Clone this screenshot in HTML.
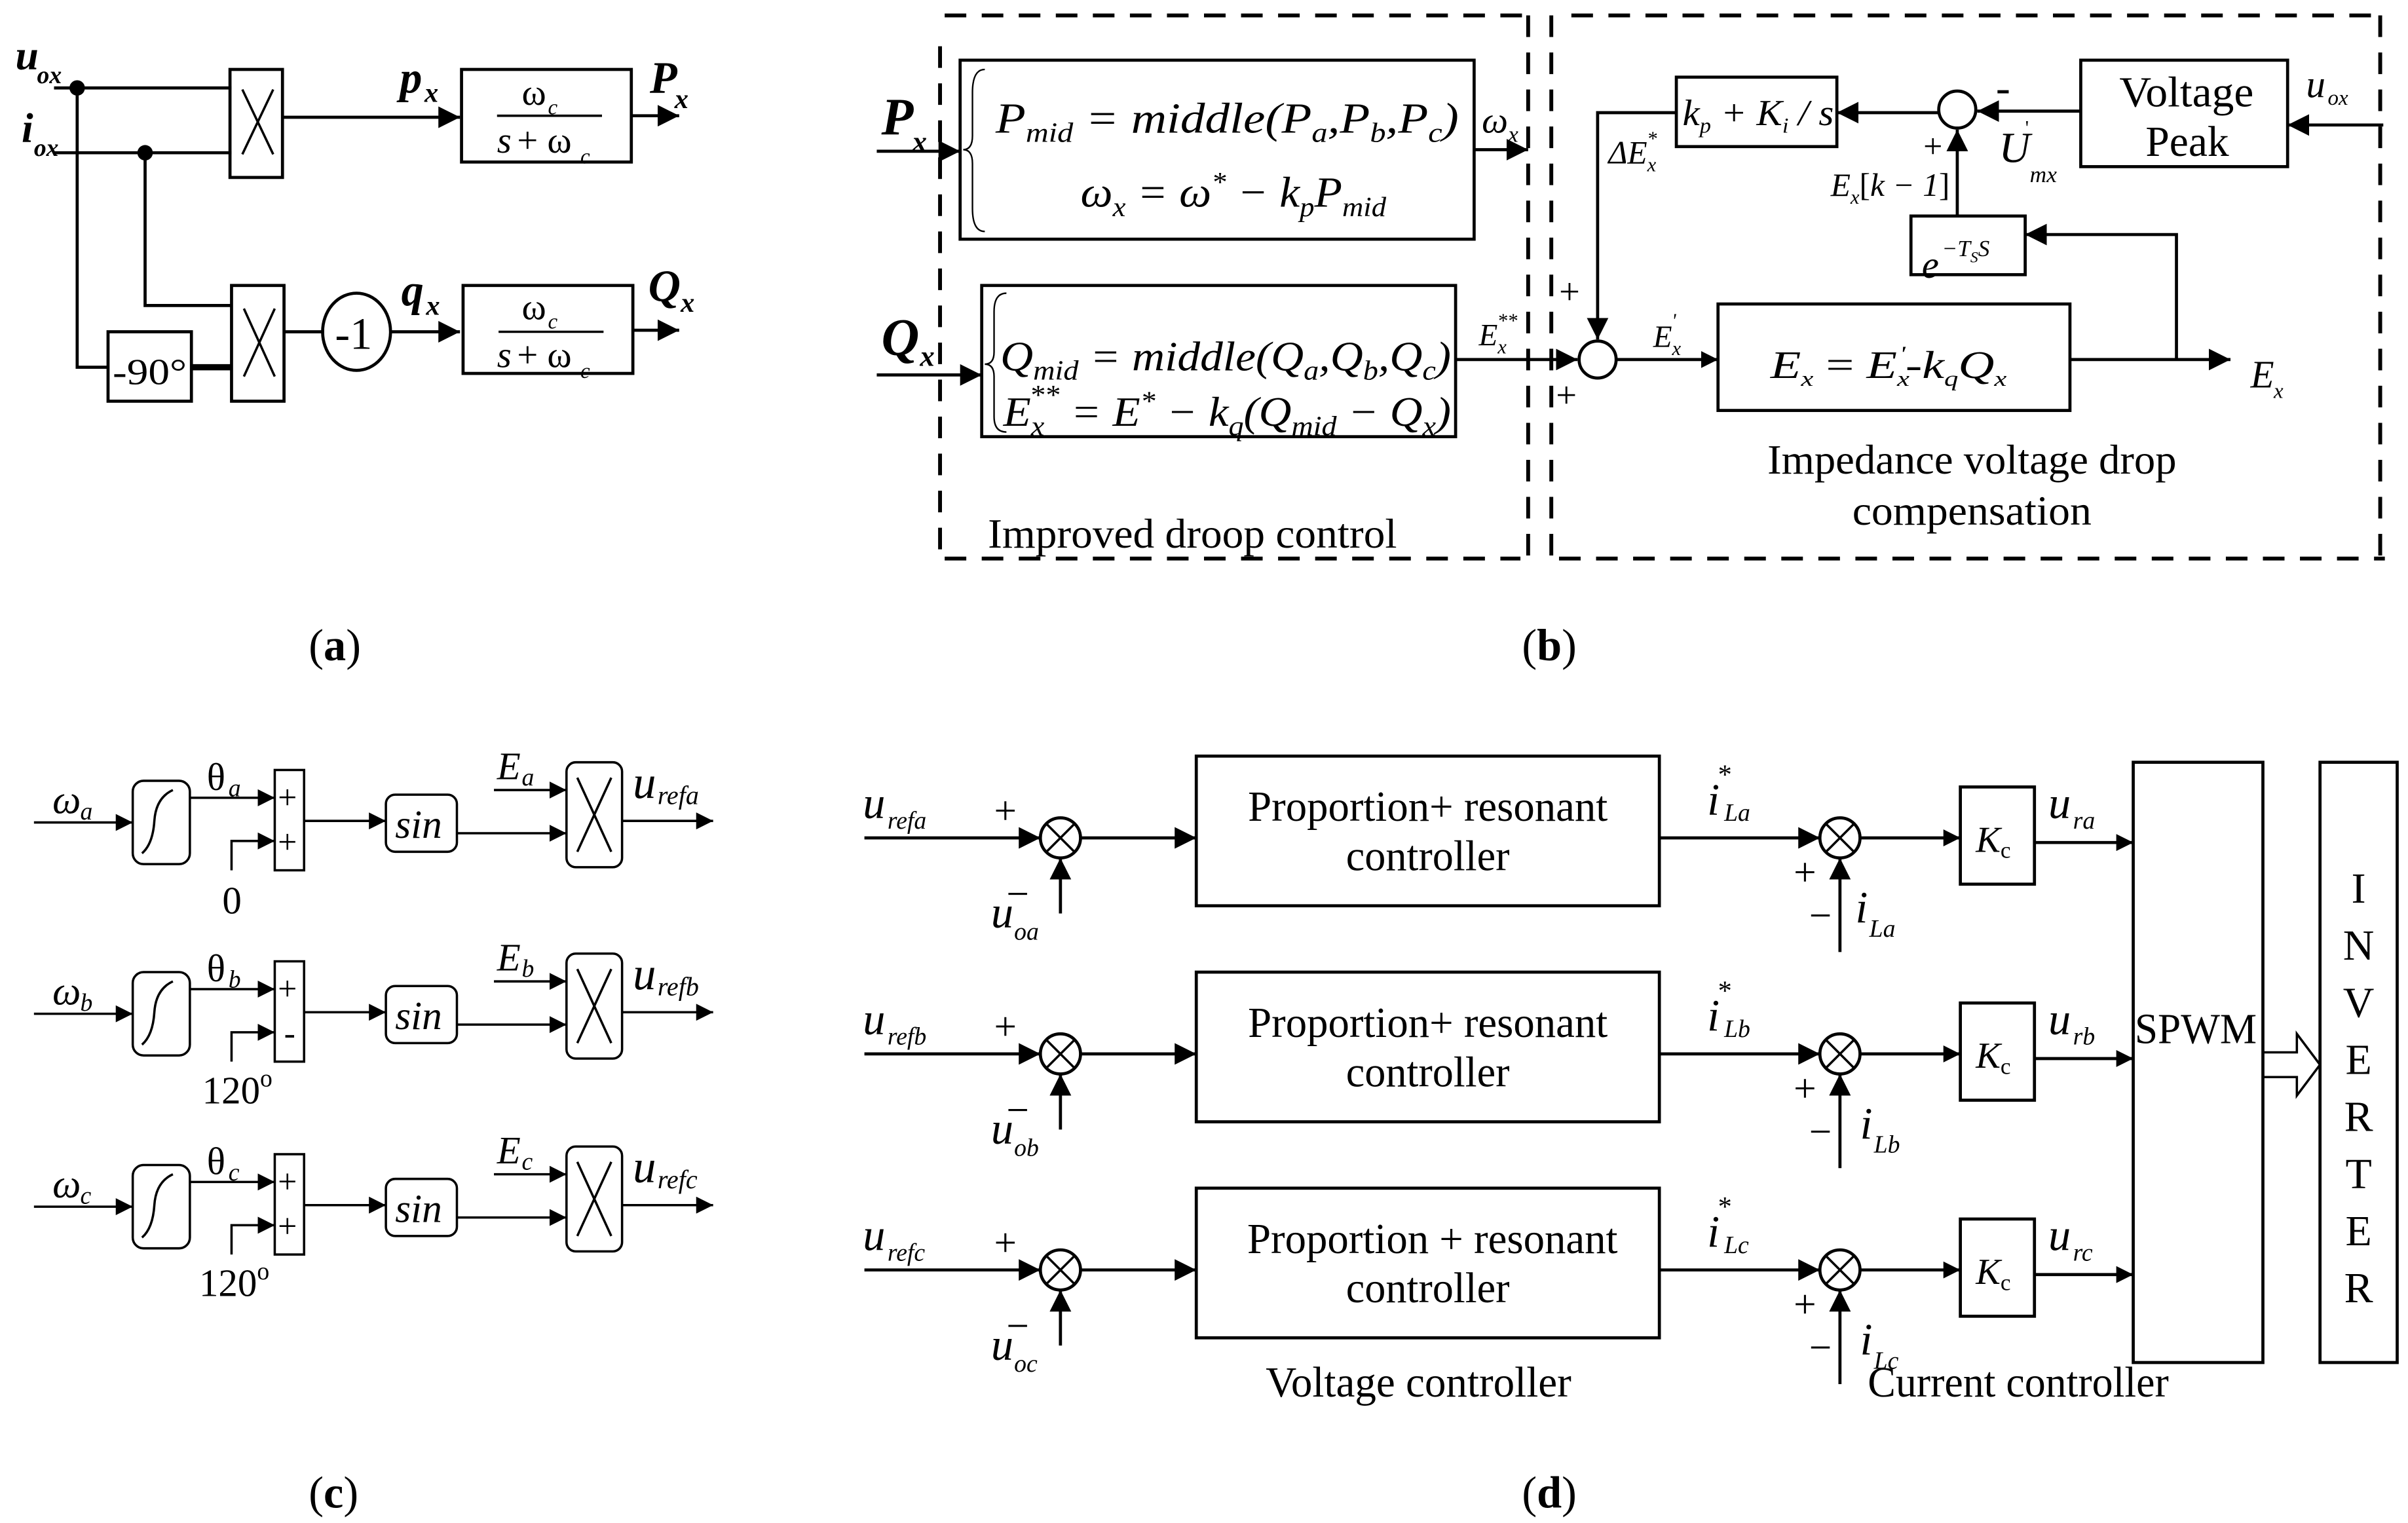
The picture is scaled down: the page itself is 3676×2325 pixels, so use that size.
<!DOCTYPE html>
<html><head><meta charset="utf-8"><style>
html,body{margin:0;padding:0;background:#fff;}
svg{display:block;}
text{font-family:"Liberation Serif",serif;fill:#000;}
.i{font-style:italic;}
.b{font-weight:bold;}
</style></head><body>
<svg width="3676" height="2325" viewBox="0 0 1560 987" preserveAspectRatio="none" xmlns="http://www.w3.org/2000/svg">
<defs>
<marker id="A" viewBox="0 0 10 10" refX="10" refY="5" markerWidth="14" markerHeight="14" orient="auto" markerUnits="userSpaceOnUse"><path d="M0,0L10,5L0,10z"/></marker>
<marker id="m" viewBox="0 0 10 10" refX="10" refY="5" markerWidth="11" markerHeight="11" orient="auto" markerUnits="userSpaceOnUse"><path d="M0,0L10,5L0,10z"/></marker>
</defs>
<g fill="none" stroke="#000" stroke-width="2">
<!-- (a) -->
<line x1="35" y1="57" x2="150" y2="57"/>
<line x1="35" y1="99" x2="150" y2="99"/>
<path d="M50,57V238H70"/>
<path d="M94,99V198H150"/>
<rect x="149" y="45" width="34" height="70"/>
<rect x="150" y="185" width="34" height="75"/>
<rect x="70" y="215" width="54" height="45"/>
<line x1="124" y1="238" x2="150" y2="238" stroke-width="4"/>
<path d="M157,58L177,100M177,58L157,100M158,200L178,244M178,200L158,244" stroke-width="1.5"/>
<line x1="183" y1="76" x2="298" y2="76" marker-end="url(#A)"/>
<rect x="299" y="45" width="110" height="60"/>
<line x1="322" y1="75" x2="390" y2="75" stroke-width="1.5"/>
<line x1="409" y1="75" x2="440" y2="75" marker-end="url(#A)"/>
<line x1="184" y1="215" x2="210" y2="215"/>
<ellipse cx="231" cy="215" rx="22" ry="25"/>
<line x1="253" y1="215" x2="298" y2="215" marker-end="url(#A)"/>
<rect x="300" y="185" width="110" height="57"/>
<line x1="323" y1="215" x2="391" y2="215" stroke-width="1.5"/>
<line x1="410" y1="214" x2="440" y2="214" marker-end="url(#A)"/>
</g>
<circle cx="50" cy="57" r="5"/><circle cx="94" cy="99" r="5"/>
<text x="10" y="45" font-size="27" class="i b">u</text><text x="24" y="54" font-size="16" class="i b">ox</text>
<text x="14" y="92" font-size="27" class="i b">i</text><text x="22" y="101" font-size="16" class="i b">ox</text>
<text x="259" y="60" font-size="29" class="i b">p</text><text x="275" y="66" font-size="18" class="i b">x</text>
<text x="421" y="60" font-size="29" class="i b">P</text><text x="437" y="70" font-size="18" class="i b">x</text>
<text x="260" y="198" font-size="29" class="i b">q</text><text x="276" y="204" font-size="18" class="i b">x</text>
<text x="420" y="195" font-size="29" class="i b">Q</text><text x="441" y="202" font-size="18" class="i b">x</text>
<text x="338" y="68" font-size="24">ω</text><text x="355" y="74" font-size="14" class="i">c</text>
<text x="322" y="99" font-size="24" class="i">s</text><text x="335" y="99" font-size="24">+ ω</text><text x="376" y="106" font-size="14" class="i">c</text>
<text x="338" y="207" font-size="24">ω</text><text x="355" y="213" font-size="14" class="i">c</text>
<text x="322" y="238" font-size="24" class="i">s</text><text x="335" y="238" font-size="24">+ ω</text><text x="376" y="245" font-size="14" class="i">c</text>
<text x="217" y="226" font-size="29">-1</text>
<text x="73" y="249" font-size="24" textLength="48" lengthAdjust="spacingAndGlyphs">-90°</text>
<text x="200" y="428" font-size="29">(<tspan class="b">a</tspan>)</text>

<!-- (b) -->
<g fill="none" stroke="#000" stroke-width="2.5" stroke-dasharray="14,10">
<line x1="612" y1="10" x2="990" y2="10"/>
<line x1="609" y1="30" x2="609" y2="362"/>
<line x1="612" y1="362" x2="985" y2="362"/>
<line x1="990" y1="10" x2="990" y2="362"/>
<line x1="1005" y1="10" x2="1005" y2="362"/>
<line x1="1018" y1="10" x2="1545" y2="10"/>
<line x1="1010" y1="362" x2="1545" y2="362"/>
<line x1="1542" y1="10" x2="1542" y2="362"/>
</g>
<g fill="none" stroke="#000" stroke-width="2">
<line x1="568" y1="98" x2="622" y2="98" marker-end="url(#A)"/>
<rect x="622" y="39" width="333" height="116"/>
<line x1="955" y1="97" x2="990" y2="97" marker-end="url(#A)"/>
<line x1="568" y1="243" x2="636" y2="243" marker-end="url(#A)"/>
<rect x="636" y="185" width="307" height="98"/>
<line x1="943" y1="233" x2="1022" y2="233" marker-end="url(#A)"/>
<circle cx="1035" cy="233" r="12"/>
<path d="M1086,73H1035V220" marker-end="url(#A)"/>
<rect x="1086" y="50" width="104" height="45"/>
<line x1="1256" y1="73" x2="1190" y2="73" marker-end="url(#A)"/>
<circle cx="1268" cy="71" r="12"/>
<line x1="1348" y1="72" x2="1281" y2="72" marker-end="url(#A)"/>
<rect x="1348" y="39" width="134" height="69"/>
<line x1="1544" y1="81" x2="1482" y2="81" marker-end="url(#A)"/>
<line x1="1268" y1="140" x2="1268" y2="84" marker-end="url(#A)"/>
<rect x="1238" y="140" width="74" height="38"/>
<path d="M1410,233V152H1312" marker-end="url(#A)"/>
<line x1="1047" y1="233" x2="1113" y2="233" marker-end="url(#m)"/>
<rect x="1113" y="197" width="228" height="69"/>
<line x1="1341" y1="233" x2="1445" y2="233" marker-end="url(#A)"/>
</g>
<text x="571" y="87" font-size="34" class="i b">P</text><text x="591" y="98" font-size="19" class="i b">x</text>
<text x="571" y="230" font-size="34" class="i b">Q</text><text x="596" y="237" font-size="19" class="i b">x</text>
<path d="M638,45Q630,45 630,60V88Q630,97 624,97Q630,97 630,106V135Q630,150 638,150" fill="none" stroke="#000" stroke-width="1"/>
<path d="M652,190Q644,190 644,202V228Q644,236 638,236Q644,236 644,244V270Q644,280 652,280" fill="none" stroke="#000" stroke-width="1"/>
<text x="645" y="86" font-size="28" class="i" textLength="300" lengthAdjust="spacingAndGlyphs">P<tspan font-size="18" dy="6">mid</tspan><tspan dy="-6"> = middle(P</tspan><tspan font-size="18" dy="6">a</tspan><tspan dy="-6">,P</tspan><tspan font-size="18" dy="6">b</tspan><tspan dy="-6">,P</tspan><tspan font-size="18" dy="6">c</tspan><tspan dy="-6">)</tspan></text>
<text x="700" y="134" font-size="28" class="i" textLength="198" lengthAdjust="spacingAndGlyphs">ω<tspan font-size="18" dy="6">x</tspan><tspan dy="-6"> = ω</tspan><tspan font-size="18" dy="-10">*</tspan><tspan dy="10"> − k</tspan><tspan font-size="18" dy="6">p</tspan><tspan dy="-6">P</tspan><tspan font-size="18" dy="6">mid</tspan></text>
<text x="960" y="86" font-size="24" class="i">ω<tspan font-size="15" dy="6">x</tspan></text>
<text x="648" y="240" font-size="27" class="i" textLength="292" lengthAdjust="spacingAndGlyphs">Q<tspan font-size="18" dy="6">mid</tspan><tspan dy="-6"> = middle(Q</tspan><tspan font-size="18" dy="6">a</tspan><tspan dy="-6">,Q</tspan><tspan font-size="18" dy="6">b</tspan><tspan dy="-6">,Q</tspan><tspan font-size="18" dy="6">c</tspan><tspan dy="-6">)</tspan></text>
<text x="650" y="276" font-size="27" class="i" textLength="290" lengthAdjust="spacingAndGlyphs">E<tspan font-size="18" dy="6">x</tspan><tspan font-size="18" dx="-9" dy="-20">**</tspan><tspan dy="14"> = E</tspan><tspan font-size="18" dy="-10">*</tspan><tspan dy="10"> − k</tspan><tspan font-size="18" dy="6">q</tspan><tspan dy="-6">(Q</tspan><tspan font-size="18" dy="6">mid</tspan><tspan dy="-6"> − Q</tspan><tspan font-size="18" dy="6">x</tspan><tspan dy="-6">)</tspan></text>
<text x="958" y="224" font-size="20" class="i">E<tspan font-size="13" dy="5">x</tspan><tspan font-size="13" dx="-6" dy="-17">**</tspan></text>
<text x="1010" y="197" font-size="24">+</text><text x="1008" y="264" font-size="24">+</text>
<text x="1042" y="106" font-size="21" class="i">ΔE<tspan font-size="13" dy="5">x</tspan><tspan font-size="13" dx="-6" dy="-17">*</tspan></text>
<text x="1090" y="81" font-size="24" class="i" textLength="98" lengthAdjust="spacingAndGlyphs">k<tspan font-size="14" dy="5">p</tspan><tspan dy="-5"> + K</tspan><tspan font-size="14" dy="5">i</tspan><tspan dy="-5"> / s</tspan></text>
<text x="1293" y="66" font-size="28">-</text>
<text x="1246" y="102" font-size="22">+</text>
<text x="1295" y="105" font-size="28" class="i">U</text><text x="1312" y="87" font-size="13">'</text><text x="1315" y="118" font-size="15" class="i">mx</text>
<text x="1373" y="69" font-size="28" textLength="87" lengthAdjust="spacingAndGlyphs">Voltage</text><text x="1390" y="101" font-size="28" textLength="54" lengthAdjust="spacingAndGlyphs">Peak</text>
<text x="1494" y="63" font-size="25" class="i">u</text><text x="1508" y="68" font-size="14" class="i">ox</text>
<text x="1186" y="127" font-size="21" class="i">E<tspan font-size="13" dy="5">x</tspan><tspan dy="-5" font-style="normal">[</tspan>k − 1<tspan font-style="normal">]</tspan></text>
<text x="1245" y="180" font-size="25" class="i">e</text><text x="1258" y="166" font-size="15" class="i">−T<tspan font-size="10" dy="4">S</tspan><tspan dy="-4">S</tspan></text>
<text x="1071" y="225" font-size="20" class="i">E<tspan font-size="13" dy="5">x</tspan><tspan font-size="13" dx="-6" dy="-18">'</tspan></text>
<text x="1147" y="245" font-size="25" class="i" textLength="153" lengthAdjust="spacingAndGlyphs">E<tspan font-size="14" dy="5">x</tspan><tspan dy="-5" font-style="normal"> = </tspan>E<tspan font-size="14" dy="5">x</tspan><tspan font-size="14" dx="-5" dy="-16">'</tspan><tspan dy="11">-k</tspan><tspan font-size="14" dy="5">q</tspan><tspan dy="-5">Q</tspan><tspan font-size="14" dy="5">x</tspan></text>
<text x="1458" y="251" font-size="25" class="i">E</text><text x="1473" y="258" font-size="14" class="i">x</text>
<text x="640" y="355" font-size="27" textLength="265" lengthAdjust="spacingAndGlyphs">Improved droop control</text>
<text x="1145" y="307" font-size="27" textLength="265" lengthAdjust="spacingAndGlyphs">Impedance voltage drop</text>
<text x="1200" y="340" font-size="27" textLength="155" lengthAdjust="spacingAndGlyphs">compensation</text>
<text x="986" y="428" font-size="29">(<tspan class="b">b</tspan>)</text>

<!-- (c) -->
<g id="rowc">
<g fill="none" stroke="#000" stroke-width="1.5">
<line x1="22" y1="533" x2="86" y2="533" marker-end="url(#m)"/>
<rect x="86" y="506" width="37" height="54" rx="7"/>
<path d="M92,553Q99,547 100,532T112,512" />
<line x1="123" y1="517" x2="178" y2="517" marker-end="url(#m)"/>
<rect x="178" y="499" width="19" height="65"/>
<path d="M150,564V545H178" marker-end="url(#m)"/>
<line x1="197" y1="532" x2="250" y2="532" marker-end="url(#m)"/>
<rect x="250" y="515" width="46" height="37" rx="6"/>
<line x1="296" y1="540" x2="367" y2="540" marker-end="url(#m)"/>
<line x1="320" y1="512" x2="367" y2="512" marker-end="url(#m)"/>
<rect x="367" y="494" width="36" height="68" rx="6"/>
<path d="M374,504L396,552M396,504L374,552"/>
<line x1="403" y1="532" x2="462" y2="532" marker-end="url(#m)"/>
</g>
</g>
<text x="34" y="527" font-size="26" class="i">ω</text><text x="52" y="531" font-size="16" class="i">a</text>
<text x="134" y="512" font-size="25">θ</text><text x="148" y="516" font-size="16" class="i">a</text>
<text x="180" y="524" font-size="22">+</text><text x="180" y="553" font-size="22">+</text>
<text x="144" y="592" font-size="25">0</text>
<text x="256" y="543" font-size="26" class="i">sin</text>
<text x="322" y="505" font-size="25" class="i">E</text><text x="338" y="509" font-size="16" class="i">a</text>
<text x="410" y="517" font-size="30" class="i">u</text><text x="426" y="521" font-size="17" class="i">refa</text>

<use href="#rowc" transform="translate(0,124)"/>
<rect x="180" y="663" width="15" height="20" fill="#fff"/>
<text x="34" y="651" font-size="26" class="i">ω</text><text x="52" y="655" font-size="16" class="i">b</text>
<text x="134" y="636" font-size="25">θ</text><text x="148" y="640" font-size="16" class="i">b</text>
<text x="180" y="648" font-size="22">+</text><text x="184" y="677" font-size="22">-</text>
<text x="131" y="715" font-size="25">120<tspan font-size="16" dy="-11">o</tspan></text>
<text x="256" y="667" font-size="26" class="i">sin</text>
<text x="322" y="629" font-size="25" class="i">E</text><text x="338" y="633" font-size="16" class="i">b</text>
<text x="410" y="641" font-size="30" class="i">u</text><text x="426" y="645" font-size="17" class="i">refb</text>

<use href="#rowc" transform="translate(0,249)"/>
<text x="34" y="776" font-size="26" class="i">ω</text><text x="52" y="780" font-size="16" class="i">c</text>
<text x="134" y="761" font-size="25">θ</text><text x="148" y="765" font-size="16" class="i">c</text>
<text x="180" y="773" font-size="22">+</text><text x="180" y="802" font-size="22">+</text>
<text x="129" y="840" font-size="25">120<tspan font-size="16" dy="-11">o</tspan></text>
<text x="256" y="792" font-size="26" class="i">sin</text>
<text x="322" y="754" font-size="25" class="i">E</text><text x="338" y="758" font-size="16" class="i">c</text>
<text x="410" y="766" font-size="30" class="i">u</text><text x="426" y="770" font-size="17" class="i">refc</text>
<text x="200" y="977" font-size="29">(<tspan class="b">c</tspan>)</text>

<!-- (d) -->
<g id="rowd">
<g fill="none" stroke="#000" stroke-width="2">
<line x1="560" y1="543" x2="674" y2="543" marker-end="url(#A)"/>
<circle cx="687" cy="543" r="13"/>
<path d="M678,534L696,552M696,534L678,552" stroke-width="1.5"/>
<line x1="687" y1="592" x2="687" y2="556" marker-end="url(#A)"/>
<line x1="700" y1="543" x2="775" y2="543" marker-end="url(#A)"/>
<rect x="775" y="490" width="300" height="97"/>
<line x1="1075" y1="543" x2="1179" y2="543" marker-end="url(#A)"/>
<circle cx="1192" cy="543" r="13"/>
<path d="M1183,534L1201,552M1201,534L1183,552" stroke-width="1.5"/>
<line x1="1192" y1="617" x2="1192" y2="556" marker-end="url(#A)"/>
<line x1="1205" y1="543" x2="1270" y2="543" marker-end="url(#m)"/>
<rect x="1270" y="510" width="48" height="63"/>
<line x1="1318" y1="546" x2="1382" y2="546" marker-end="url(#m)"/>
</g>
<text x="644" y="534" font-size="26">+</text>
<text x="652" y="588" font-size="26">−</text>
<text x="1162" y="574" font-size="26">+</text>
<text x="1172" y="602" font-size="26">−</text>
<text x="1280" y="552" font-size="24" class="i">K<tspan font-size="15" dy="4" font-style="normal">c</tspan></text>
<text x="925" y="532" font-size="28" text-anchor="middle" textLength="233" lengthAdjust="spacingAndGlyphs">Proportion+ resonant</text>
<text x="925" y="564" font-size="28" text-anchor="middle" textLength="106" lengthAdjust="spacingAndGlyphs">controller</text>
</g>
<use href="#rowd" transform="translate(0,140)"/>
<use href="#rowd" transform="translate(0,280)"/>
<rect x="790" y="788" width="270" height="30" fill="#fff"/>
<text x="928" y="812" font-size="28" text-anchor="middle" textLength="240" lengthAdjust="spacingAndGlyphs">Proportion + resonant</text>

<text x="559" y="530" font-size="29" class="i">u</text><text x="575" y="537" font-size="16" class="i">refa</text>
<text x="559" y="670" font-size="29" class="i">u</text><text x="575" y="677" font-size="16" class="i">refb</text>
<text x="559" y="810" font-size="29" class="i">u</text><text x="575" y="817" font-size="16" class="i">refc</text>
<text x="642" y="601" font-size="29" class="i">u</text><text x="657" y="609" font-size="16" class="i">oa</text>
<text x="642" y="741" font-size="29" class="i">u</text><text x="657" y="749" font-size="16" class="i">ob</text>
<text x="642" y="881" font-size="29" class="i">u</text><text x="657" y="889" font-size="16" class="i">oc</text>
<text x="1106" y="528" font-size="29" class="i">i</text><text x="1113" y="508" font-size="18">*</text><text x="1117" y="532" font-size="16" class="i">La</text>
<text x="1106" y="668" font-size="29" class="i">i</text><text x="1113" y="648" font-size="18">*</text><text x="1117" y="672" font-size="16" class="i">Lb</text>
<text x="1106" y="808" font-size="29" class="i">i</text><text x="1113" y="788" font-size="18">*</text><text x="1117" y="812" font-size="16" class="i">Lc</text>
<text x="1202" y="598" font-size="29" class="i">i</text><text x="1211" y="607" font-size="16" class="i">La</text>
<text x="1205" y="738" font-size="29" class="i">i</text><text x="1214" y="747" font-size="16" class="i">Lb</text>
<text x="1205" y="878" font-size="29" class="i">i</text><text x="1214" y="887" font-size="16" class="i">Lc</text>
<text x="1327" y="530" font-size="29" class="i">u</text><text x="1343" y="537" font-size="16" class="i">ra</text>
<text x="1327" y="670" font-size="29" class="i">u</text><text x="1343" y="677" font-size="16" class="i">rb</text>
<text x="1327" y="810" font-size="29" class="i">u</text><text x="1343" y="817" font-size="16" class="i">rc</text>
<g fill="none" stroke="#000" stroke-width="2">
<rect x="1382" y="494" width="84" height="389"/>
<rect x="1503" y="494" width="50" height="389"/>
<path d="M1466,682H1488V670L1503,690L1488,710V698H1466Z" stroke-width="1.5"/>
</g>
<text x="1383" y="676" font-size="28" textLength="79" lengthAdjust="spacingAndGlyphs">SPWM</text>
<g font-size="28" text-anchor="middle">
<text x="1528" y="585">I</text><text x="1528" y="622">N</text><text x="1528" y="659">V</text><text x="1528" y="696">E</text><text x="1528" y="733">R</text><text x="1528" y="770">T</text><text x="1528" y="807">E</text><text x="1528" y="844">R</text>
</g>
<text x="820" y="905" font-size="28" textLength="198" lengthAdjust="spacingAndGlyphs">Voltage controller</text>
<text x="1210" y="905" font-size="28" textLength="195" lengthAdjust="spacingAndGlyphs">Current controller</text>
<text x="986" y="977" font-size="29">(<tspan class="b">d</tspan>)</text>
</svg>
</body></html>
